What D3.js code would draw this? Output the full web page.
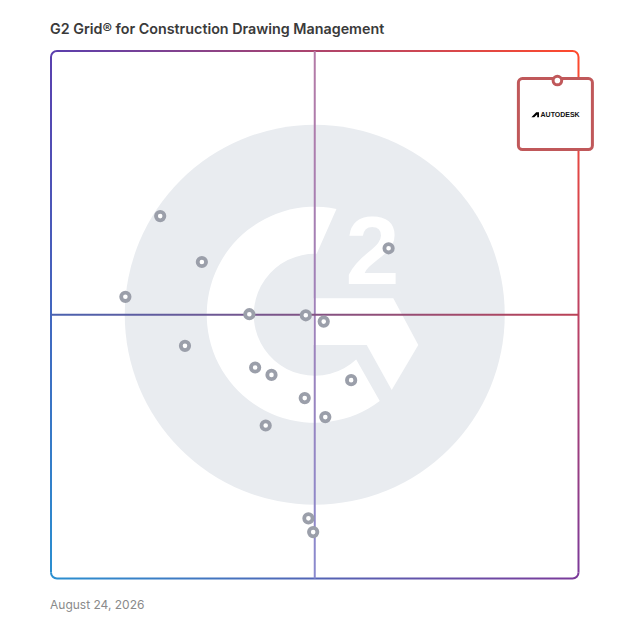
<!DOCTYPE html>
<html>
<head>
<meta charset="utf-8">
<script src="https://cdn.jsdelivr.net/npm/d3@7"></script>
<style>
  html, body { margin: 0; padding: 0; background: #fff; }
  svg { display: block; }
</style>
</head>
<body>
<div id="chart"></div>
<script>
var title = 'G2 Grid\u00ae for Construction Drawing Management',
    dateLabel = 'August 24, 2026'

// satisfaction (x) and market presence (y) on a 0-100 scale
var satisfaction   = [20.7, 28.6, 14.1, 25.4, 37.6, 48.3, 51.7, 38.7, 41.8, 56.9, 48.1, 52.0, 40.7, 64.0, 48.8, 49.7],
    marketPresence = [68.7, 60.0, 53.4, 44.1, 50.1, 49.9, 48.7, 40.0, 38.6, 37.6, 34.2, 30.6, 29.0, 62.6, 11.4, 8.8]

var leaderNames = ['AUTODESK'],
    leaderSatisfaction = [96.0],
    leaderPresence = [94.4]

var width = 628, height = 628,
    frame = { left: 51, top: 51, right: 578.5, bottom: 578.5 },
    r = 6

var x = d3.scaleLinear().domain([0, 100]).range([frame.left, frame.right]),
    y = d3.scaleLinear().domain([0, 100]).range([frame.bottom, frame.top])

var svg = d3.select('#chart').append('svg')
    .attr('width', width)
    .attr('height', height)

var defs = svg.append('defs')

function gradient(id, x1, y1, x2, y2, from, to) {
    var g = defs.append('linearGradient').attr('id', id)
        .attr('gradientUnits', 'userSpaceOnUse')
        .attr('x1', x1).attr('y1', y1).attr('x2', x2).attr('y2', y2)
    g.append('stop').attr('offset', '0%').attr('stop-color', from)
    g.append('stop').attr('offset', '100%').attr('stop-color', to)
    return 'url(#' + id + ')'
}

var cTL = '#5a3fae', cTR = '#ff4a2c', cBL = '#2a8fd0', cBR = '#7b3a9a'

// background G2 mark
var cx = x(50), cy = y(50)
svg.append('circle').attr('cx', cx).attr('cy', cy).attr('r', 190).attr('fill', '#e9ecf0')

function polar(rad, deg) {
    var a = deg * Math.PI / 180
    return [cx + rad * Math.sin(a), cy - rad * Math.cos(a)]
}
var ro = 108, ri = 61,
    o1 = polar(ro, 143), o2 = polar(ro, 371.6), i1 = polar(ri, 361.8), i2 = polar(ri, 137.2)
svg.append('path')
    .attr('fill', '#fff')
    .attr('d', 'M' + o1 + 'A' + ro + ',' + ro + ' 0 1 1 ' + o2 + 'L' + i1 +
        'A' + ri + ',' + ri + ' 0 1 0 ' + i2 + 'Z')

var chevron = [[313.3, 298.3], [393.3, 298.3], [418.3, 345], [391.7, 390], [366.7, 345], [313.3, 345]]
svg.append('path').attr('fill', '#fff').attr('d', d3.line()(chevron) + 'Z')

svg.append('text')
    .attr('x', 372.5).attr('y', 283.5)
    .attr('text-anchor', 'middle')
    .attr('font-family', 'Liberation Sans, Arial, sans-serif')
    .attr('font-weight', 'bold')
    .attr('font-size', 97)
    .attr('fill', '#fff')
    .text('2')

// frame, one side at a time so each corner keeps its colour
var L = frame.left, T = frame.top, R = frame.right, B = frame.bottom
var sides = [
    { d: 'M' + L + ',' + (T + r) + 'A' + r + ',' + r + ' 0 0 1 ' + (L + r) + ',' + T + 'L' + (R - r) + ',' + T + 'A' + r + ',' + r + ' 0 0 1 ' + R + ',' + (T + r),
      stroke: gradient('gTop', L, T, R, T, cTL, cTR) },
    { d: 'M' + R + ',' + (T + r) + 'L' + R + ',' + (B - r),
      stroke: gradient('gRight', R, T, R, B, cTR, cBR) },
    { d: 'M' + L + ',' + (B - r) + 'A' + r + ',' + r + ' 0 0 0 ' + (L + r) + ',' + B + 'L' + (R - r) + ',' + B + 'A' + r + ',' + r + ' 0 0 0 ' + R + ',' + (B - r),
      stroke: gradient('gBottom', L, B, R, B, cBL, cBR) },
    { d: 'M' + L + ',' + (T + r) + 'L' + L + ',' + (B - r),
      stroke: gradient('gLeft', L, T, L, B, cTL, cBL) }
]
svg.selectAll('path.side').data(sides).enter().append('path')
    .attr('class', 'side')
    .attr('d', d => d.d)
    .attr('fill', 'none')
    .attr('stroke', d => d.stroke)
    .attr('stroke-width', 2)

// quadrant dividers
svg.append('line')
    .attr('x1', cx).attr('x2', cx).attr('y1', T).attr('y2', B)
    .attr('stroke', gradient('gV', cx, T, cx, B, '#b47aa6', '#8a8ace'))
    .attr('stroke-width', 2)
svg.append('line')
    .attr('x1', L).attr('x2', R).attr('y1', cy).attr('y2', cy)
    .attr('stroke', gradient('gH', L, cy, R, cy, '#4a62b0', '#bb4256'))
    .attr('stroke-width', 2)

// products
svg.selectAll('circle.product').data(satisfaction).enter().append('circle')
    .attr('class', 'product')
    .attr('cx', d => x(d))
    .attr('cy', (d, i) => y(marketPresence[i]))
    .attr('r', 4.2)
    .attr('fill', '#fff')
    .attr('stroke', '#9b9faa')
    .attr('stroke-width', 3.8)

// leader with logo card
var boxW = 74, boxH = 71, red = '#c0585a'
var leaders = svg.selectAll('g.leader').data(leaderNames).enter().append('g')
    .attr('class', 'leader')
    .attr('transform', (d, i) => 'translate(' + x(leaderSatisfaction[i]) + ',' + y(leaderPresence[i]) + ')')

leaders.append('rect')
    .attr('x', -boxW / 2 - 2).attr('y', -2)
    .attr('width', boxW).attr('height', boxH)
    .attr('rx', 4)
    .attr('fill', '#fff')
    .attr('stroke', red)
    .attr('stroke-width', 3)

leaders.append('circle')
    .attr('r', 4.3)
    .attr('fill', '#fff')
    .attr('stroke', red)
    .attr('stroke-width', 3)

leaders.append('path')
    .attr('d', 'M-26,36.8 L-21.2,31.6 L-18.4,31.6 L-18.4,36.8 L-20.2,36.8 L-20.2,34 L-23.2,36.8 Z')
    .attr('fill', '#000')

leaders.append('text')
    .attr('x', 2.7).attr('y', 36.5)
    .attr('text-anchor', 'middle')
    .attr('font-family', 'Liberation Sans, Arial, sans-serif')
    .attr('font-weight', 'bold')
    .attr('font-size', 7)
    .attr('fill', '#111')
    .text(d => d)

// title and date
svg.append('text')
    .attr('x', 50).attr('y', 34)
    .attr('font-family', 'Inter, sans-serif')
    .attr('font-weight', 600)
    .attr('font-size', 14.3)
    .attr('fill', '#3a3a3a')
    .text(title)

svg.append('text')
    .attr('x', 50).attr('y', 608.5)
    .attr('font-family', 'Inter, sans-serif')
    .attr('font-size', 12)
    .attr('fill', '#8a8a8a')
    .text(dateLabel)
</script>
</body>
</html>
